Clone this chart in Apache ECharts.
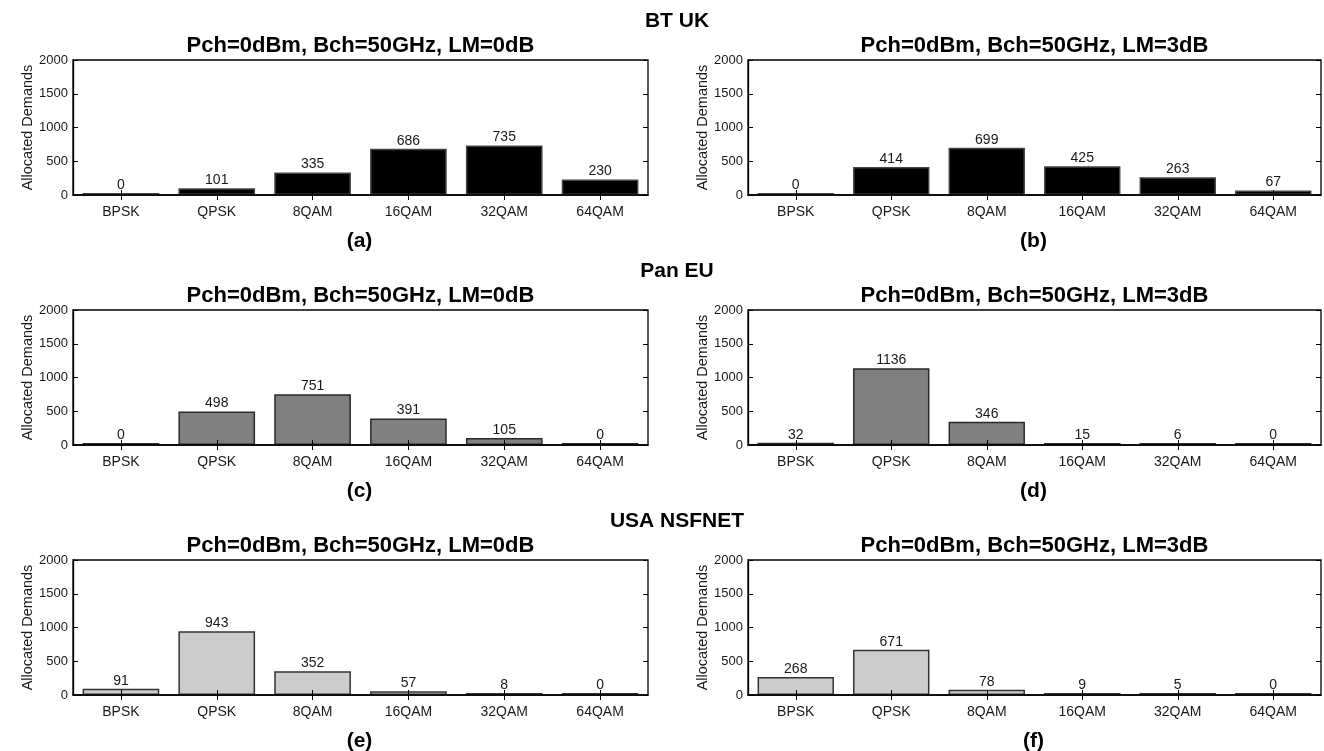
<!DOCTYPE html>
<html>
<head>
<meta charset="utf-8">
<script src="https://cdn.jsdelivr.net/npm/echarts@6/dist/echarts.min.js"></script>
<style>html,body{margin:0;padding:0;background:#fff;}#c{width:1324px;height:751px;}</style>
</head>
<body>
<div id="c"></div>
<script>
const categories = ['BPSK', 'QPSK', '8QAM', '16QAM', '32QAM', '64QAM'];
const btUk0 = [0, 101, 335, 686, 735, 230];
const btUk3 = [0, 414, 699, 425, 263, 67];
const panEu0 = [0, 498, 751, 391, 105, 0];
const panEu3 = [32, 1136, 346, 15, 6, 0];
const usa0 = [91, 943, 352, 57, 8, 0];
const usa3 = [268, 671, 78, 9, 5, 0];
const rowTitles = ['BT UK', 'Pan EU', 'USA NSFNET'];
const subTitles = ['Pch=0dBm, Bch=50GHz, LM=0dB', 'Pch=0dBm, Bch=50GHz, LM=3dB'];
const panelLabels = ['(a)', '(b)', '(c)', '(d)', '(e)', '(f)'];
const yTicks = [0, 500, 1000, 1500, 2000];

const panels = [btUk0, btUk3, panEu0, panEu3, usa0, usa3];
const rowFill = ['#000000', '#808080', '#cccccc'];
const rowBorder = ['#444444', '#2a2a2a', '#333333'];

const FONT = 'Liberation Sans, Arial, Helvetica, sans-serif';
const colLeft = [73, 748];
const colWidth = [575, 573];
const rowTop = [60, 310, 560];
const plotH = 135;

const grids = [], xAxes = [], yAxes = [], series = [], titles = [];

rowTitles.forEach((t, r) => {
  titles.push({text: t, left: 672, top: rowTop[r] - 54, textAlign: 'center',
    textStyle: {fontFamily: FONT, fontSize: 21, fontWeight: 'bold', color: '#000'}});
});

panels.forEach((data, i) => {
  const r = Math.floor(i / 2), c = i % 2;
  const left = colLeft[c], w = colWidth[c], top = rowTop[r];
  grids.push({left: left, top: top, width: w, height: plotH, show: true,
    borderColor: '#000', borderWidth: 1.3, backgroundColor: 'transparent'});
  titles.push({text: subTitles[c], left: left + w / 2 - 5, top: top - 30, textAlign: 'center',
    textStyle: {fontFamily: FONT, fontSize: 22, fontWeight: 'bold', color: '#000'}});
  titles.push({text: panelLabels[i], left: left + w / 2 - 6, top: top + plotH + 31, textAlign: 'center',
    textStyle: {fontFamily: FONT, fontSize: 21, fontWeight: 'bold', color: '#000'}});
  const gi = grids.length - 1;
  xAxes.push({type: 'category', gridIndex: gi, data: categories, position: 'bottom',
    axisLine: {lineStyle: {color: '#000', width: 1.5}},
    axisTick: {show: true, inside: true, alignWithLabel: true, length: 5, lineStyle: {color: '#000'}},
    axisLabel: {fontFamily: FONT, fontSize: 14, color: '#1a1a1a', margin: 10}, z: 5});
  xAxes.push({type: 'category', gridIndex: gi, data: categories, position: 'top',
    axisLine: {show: false},
    axisTick: {show: true, inside: true, alignWithLabel: true, length: 5, lineStyle: {color: '#000'}},
    axisLabel: {show: false}});
  yAxes.push({type: 'value', gridIndex: gi, min: 0, max: 2000, interval: 500, position: 'left',
    name: 'Allocated Demands', nameLocation: 'middle', nameGap: 38, nameRotate: 90,
    nameTextStyle: {fontFamily: FONT, fontSize: 14.5, color: '#1a1a1a'},
    axisLine: {show: true, lineStyle: {color: '#000', width: 1.3}},
    axisTick: {show: true, inside: true, length: 5, lineStyle: {color: '#000'}},
    axisLabel: {fontFamily: FONT, fontSize: 13, color: '#1a1a1a', margin: 5,
      formatter: v => String(v)},
    splitLine: {show: false}});
  yAxes.push({type: 'value', gridIndex: gi, min: 0, max: 2000, interval: 500, position: 'right',
    axisLine: {show: false},
    axisTick: {show: true, inside: true, length: 5, lineStyle: {color: '#000'}},
    axisLabel: {show: false}, splitLine: {show: false}});
  series.push({type: 'bar', xAxisIndex: 2 * gi, yAxisIndex: 2 * gi, data: data,
    barWidth: '80%', barMinHeight: 2,
    itemStyle: {color: rowFill[r], borderColor: rowBorder[r], borderWidth: 1.5},
    label: {show: true, position: 'top', distance: 1, fontFamily: FONT, fontSize: 14, color: '#1a1a1a'},
    animation: false, z: 1});
});

const chart = echarts.init(document.getElementById('c'), null, {renderer: 'canvas'});
chart.setOption({
  animation: false,
  backgroundColor: '#fff',
  title: titles,
  grid: grids,
  xAxis: xAxes,
  yAxis: yAxes,
  series: series
});
</script>
</body>
</html>
